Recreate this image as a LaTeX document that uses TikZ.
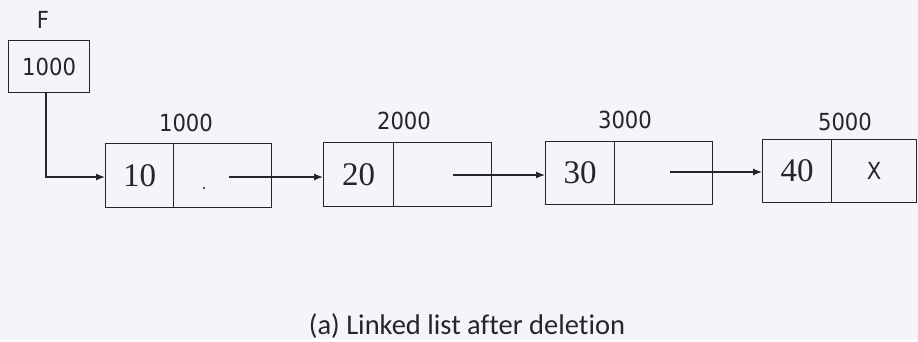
\documentclass[tikz,border=0pt]{standalone}
\usepackage{fontspec}
\setmainfont{Liberation Serif}
\newfontfamily\addrfont{DejaVu Sans Condensed}
\newfontfamily\captfont[Ligatures=NoCommon]{Carlito}
\usetikzlibrary{arrows.meta}
\definecolor{paper}{HTML}{F4F4FA}
\definecolor{ink}{HTML}{262626}
\begin{document}
\begin{tikzpicture}[x=1pt,y=-1pt,
  cell/.style={draw=ink, line width=1.2pt, inner sep=0pt, anchor=north west},
  addr/.style={font=\addrfont\fontsize{23.5}{23.5}\selectfont, text=ink, inner sep=0pt},
  val/.style={font=\fontsize{33}{33}\selectfont, text=ink},
  link/.style={draw=ink, line width=1.2pt, -{Latex[length=9pt,width=7pt]}}
]
% background and canvas size
\fill[paper] (0,0) rectangle (918,339);

% head pointer F
\node[addr] (flabel) at (43,20) {F};
\node[cell, minimum width=81pt, minimum height=52pt, addr] (head) at (8,40) {1000};

% list nodes: data cell + pointer cell
\node[cell, minimum width=68pt, minimum height=64pt, val] (d1) at (105,143) {10};
\node[cell, minimum width=98pt, minimum height=64pt] (p1) at (173,143) {};
\node[cell, minimum width=70pt, minimum height=64pt, val] (d2) at (323,142) {20};
\node[cell, minimum width=98pt, minimum height=64pt] (p2) at (393,142) {};
\node[cell, minimum width=69pt, minimum height=63pt, val] (d3) at (545,141) {30};
\node[cell, minimum width=98pt, minimum height=63pt] (p3) at (614,141) {};
\node[cell, minimum width=69pt, minimum height=63pt, val] (d4) at (762,139) {40};
\node[cell, minimum width=85pt, minimum height=63pt, addr] (p4) at (831,139) {X};

% addresses above the nodes
\node[addr] (a1) at (186,123) {1000};
\node[addr] (a2) at (404,121) {2000};
\node[addr] (a3) at (625,120) {3000};
\node[addr] (a4) at (845,122) {5000};

% stray dot in the first pointer cell
\fill[ink] (204,188) circle (1.2pt);

% links
\coordinate (hbend) at (46,177);
\draw[link] (head.south -| hbend) -- (hbend) -- (d1.west |- hbend);
\coordinate (s1) at (229,177);
\coordinate (s2) at (453,175);
\coordinate (s3) at (670,172);
\draw[link] (s1) -- (d2.west |- s1);
\draw[link] (s2) -- (d3.west |- s2);
\draw[link] (s3) -- (d4.west |- s3);

% caption
\node[font=\captfont\fontsize{28.5}{28.5}\selectfont, text=ink] (cap) at (467,326) {(a) Linked list after deletion};
\end{tikzpicture}
\end{document}
